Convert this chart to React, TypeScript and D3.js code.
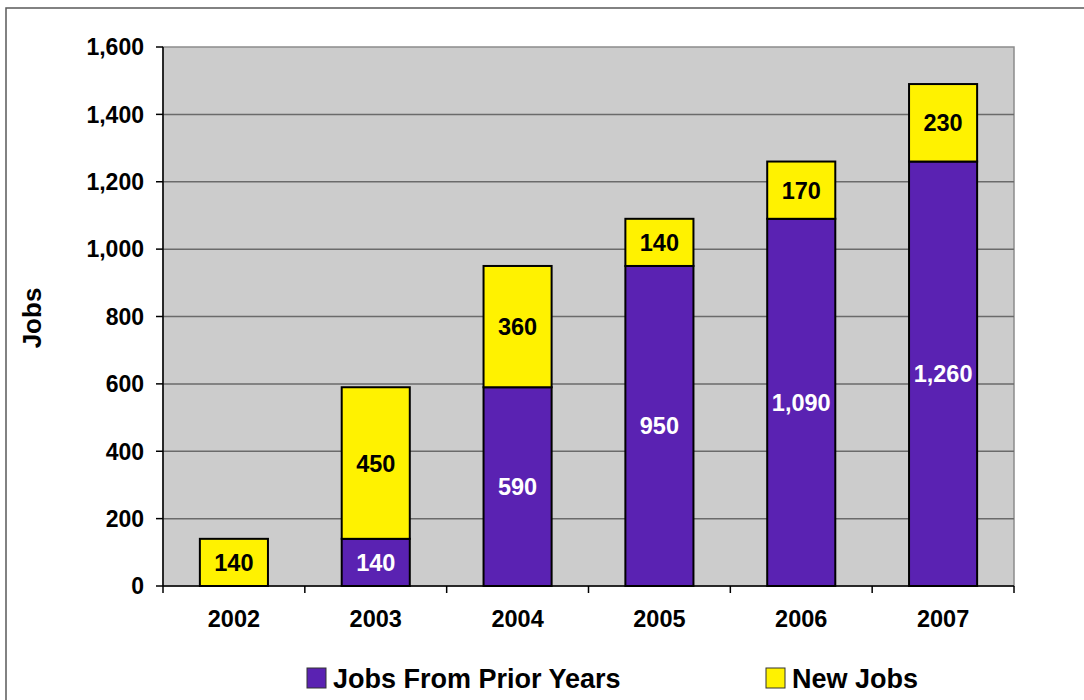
import React from "react";
import * as d3 from "d3";

const years = ["2002", "2003", "2004", "2005", "2006", "2007"];
const priorJobs = [0, 140, 590, 950, 1090, 1260];
const newJobs = [140, 450, 360, 140, 170, 230];
const yTicks = [0, 200, 400, 600, 800, 1000, 1200, 1400, 1600];
const seriesNames = ["Jobs From Prior Years", "New Jobs"];
const seriesColors = ["#5a22b2", "#fff200"];
const labelColors = ["#ffffff", "#000000"];

const W = 1084;
const H = 700;
const left = 163, right = 1014, top = 47, bottom = 586;
const FONT = "'Liberation Sans', Arial, sans-serif";

export default function App() {
  const x = d3.scaleBand<string>().domain(years).range([left, right]).paddingInner(0.52).paddingOuter(0.26);
  const y = d3.scaleLinear().domain([0, 1600]).range([bottom, top]);
  const fmt = d3.format(",");
  const rows = years.map((yr, i) => ({ year: yr, prior: priorJobs[i], fresh: newJobs[i] }));
  const stack = d3.stack<any>().keys(["prior", "fresh"])(rows);
  const step = x.step();
  const boundaries = d3.range(years.length + 1).map((i) => left + i * step);

  return (
    <svg width={W} height={H} style={{ position: "absolute", left: 0, top: 0, background: "#fff" }} fontFamily={FONT} fontWeight="bold">
      <rect x={6} y={8} width={W + 20} height={H + 20} fill="#fff" stroke="#5a5a5a" strokeWidth={1.5} />
      {/* plot area */}
      <rect x={left} y={top} width={right - left} height={bottom - top} fill="#cccccc" stroke="#8c8c8c" strokeWidth={1.5} />
      {yTicks.filter((t) => t > 0 && t < 1600).map((t) => (
        <line key={t} x1={left} x2={right} y1={y(t)} y2={y(t)} stroke="#6a6a6a" strokeWidth={1.5} />
      ))}
      {/* axes */}
      <line x1={left} x2={left} y1={top} y2={bottom} stroke="#000" strokeWidth={1.5} />
      <line x1={left} x2={right} y1={bottom} y2={bottom} stroke="#000" strokeWidth={1.5} />
      {yTicks.map((t) => (
        <g key={t}>
          <line x1={left - 7} x2={left} y1={y(t)} y2={y(t)} stroke="#000" strokeWidth={1.5} />
          <text x={144} y={y(t)} dy="0.36em" textAnchor="end" fontSize={23} fill="#000">{fmt(t)}</text>
        </g>
      ))}
      {boundaries.map((bx, i) => (
        <line key={i} x1={bx} x2={bx} y1={bottom} y2={bottom + 7} stroke="#000" strokeWidth={1.5} />
      ))}
      {years.map((yr) => (
        <text key={yr} x={(x(yr) as number) + x.bandwidth() / 2} y={627} textAnchor="middle" fontSize={23.5} fill="#000">{yr}</text>
      ))}
      {/* bars */}
      {stack.map((s, si) => (
        <g key={si}>
          {s.map((d: any, i: number) => {
            const v = d[1] - d[0];
            if (v <= 0) return null;
            const bx = x(years[i]) as number;
            const y0 = y(d[0]);
            const y1 = y(d[1]);
            return (
              <g key={i}>
                <rect x={bx} y={y1} width={x.bandwidth()} height={y0 - y1} fill={seriesColors[si]} stroke="#000" strokeWidth={2} />
                <text x={bx + x.bandwidth() / 2} y={(y0 + y1) / 2} dy="0.36em" textAnchor="middle" fontSize={23.5} fill={labelColors[si]}>{fmt(v)}</text>
              </g>
            );
          })}
        </g>
      ))}
      {/* y title */}
      <text transform={`translate(41,318) rotate(-90)`} textAnchor="middle" fontSize={26} fill="#000">Jobs</text>
      {/* legend */}
      {[307, 766].map((lx, i) => (
        <g key={i}>
          <rect x={lx} y={668} width={19} height={20} fill={seriesColors[i]} stroke="#333" strokeWidth={1} />
          <text x={lx + 26} y={688} fontSize={27} fill="#000">{seriesNames[i]}</text>
        </g>
      ))}
    </svg>
  );
}
